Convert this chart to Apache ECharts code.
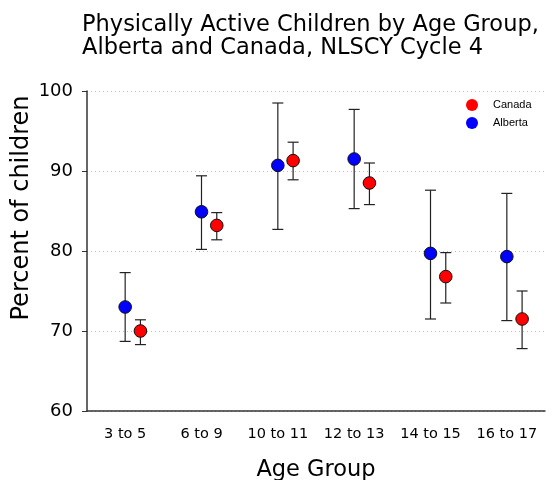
<!DOCTYPE html>
<html>
<head>
<meta charset="utf-8">
<script src="https://cdn.jsdelivr.net/npm/echarts@6/dist/echarts.min.js"></script>
<style>html,body{margin:0;padding:0;background:#fff;}#chart{width:554px;height:480px;}</style>
</head>
<body>
<div id="chart"></div>
<script>
var categories = ['3 to 5', '6 to 9', '10 to 11', '12 to 13', '14 to 15', '16 to 17'];
var albertaValues = [73.0, 84.9, 90.7, 91.5, 79.7, 79.3];
var albertaLow = [68.7, 80.2, 82.7, 85.3, 71.5, 71.3];
var albertaHigh = [77.3, 89.4, 98.5, 97.7, 87.6, 87.2];
var canadaValues = [70.0, 83.2, 91.3, 88.5, 76.8, 71.5];
var canadaLow = [68.3, 81.4, 88.9, 85.8, 73.5, 67.8];
var canadaHigh = [71.4, 84.8, 93.6, 91.0, 79.8, 75.0];

function buildData(vals, lows, highs) {
  return vals.map(function (v, i) { return [i, v, lows[i], highs[i]]; });
}

function makeRender(color, shiftFrac) {
  return function (params, api) {
    var i = api.value(0);
    var band = api.size([1, 0])[0];
    var dx = band * shiftFrac;
    var c = api.coord([i, api.value(1)]);
    var lo = api.coord([i, api.value(2)]);
    var hi = api.coord([i, api.value(3)]);
    var x = c[0] + dx;
    var cap = 5.5;
    var ls = { stroke: '#222', lineWidth: 1.2 };
    return {
      type: 'group',
      children: [
        { type: 'line', shape: { x1: x, y1: hi[1], x2: x, y2: lo[1] }, style: ls },
        { type: 'line', shape: { x1: x - cap, y1: hi[1], x2: x + cap, y2: hi[1] }, style: ls },
        { type: 'line', shape: { x1: x - cap, y1: lo[1], x2: x + cap, y2: lo[1] }, style: ls },
        { type: 'circle', shape: { cx: x, cy: c[1], r: 6.3 }, style: { fill: color, stroke: '#111', lineWidth: 1 } }
      ]
    };
  };
}

var chart = echarts.init(document.getElementById('chart'));
chart.setOption({
  backgroundColor: '#fff',
  animation: false,
  title: {
    text: 'Physically Active Children by Age Group,\nAlberta and Canada, NLSCY Cycle 4',
    left: 77, top: 9,
    textStyle: { fontFamily: 'DejaVu Sans', fontSize: 22.5, fontWeight: 'normal', color: '#000', lineHeight: 23 }
  },
  legend: {
    data: ['Canada', 'Alberta'],
    orient: 'vertical',
    left: 461, top: 94,
    icon: 'circle',
    itemWidth: 12, itemHeight: 12, itemGap: 6,
    textStyle: { fontFamily: 'Liberation Sans', fontSize: 11, color: '#000', padding: [0, 0, 0, 10] }
  },
  grid: { left: 87, right: 9, top: 91, bottom: 69, outerBoundsMode: 'none', containLabel: false },
  xAxis: {
    type: 'category',
    data: categories,
    boundaryGap: true,
    name: 'Age Group',
    nameLocation: 'middle',
    nameGap: 48,
    nameTextStyle: { fontFamily: 'DejaVu Sans', fontSize: 22.5, color: '#000' },
    axisLine: { lineStyle: { color: '#333', width: 1.5 } },
    axisTick: { alignWithLabel: true, length: 5, lineStyle: { color: '#333' } },
    axisLabel: { interval: 0, hideOverlap: false, fontFamily: 'DejaVu Sans', fontSize: 14.5, color: '#000', margin: 16 },
    splitLine: { show: false }
  },
  yAxis: {
    type: 'value',
    min: 60, max: 100, interval: 10,
    axisLine: { show: true, lineStyle: { color: '#333', width: 1.5 } },
    axisTick: { show: true, length: 5, lineStyle: { color: '#333' } },
    axisLabel: { fontFamily: 'DejaVu Sans', fontSize: 18, color: '#000', margin: 14 },
    splitLine: { show: true, lineStyle: { color: '#bbb', type: [1, 3], width: 1 } }
  },
  graphic: [{
    type: 'text', x: 22, y: 208, rotation: Math.PI / 2,
    style: { text: 'Percent of children', fontFamily: 'DejaVu Sans', fontSize: 24, fill: '#000', textAlign: 'center', textVerticalAlign: 'middle' }
  }],
  series: [
    { name: 'Alberta', type: 'custom', itemStyle: { color: '#0000ff' }, renderItem: makeRender('#0000ff', 0), data: buildData(albertaValues, albertaLow, albertaHigh), z: 3 },
    { name: 'Canada', type: 'custom', itemStyle: { color: '#ff0000' }, renderItem: makeRender('#ff0000', 0.2), data: buildData(canadaValues, canadaLow, canadaHigh), z: 4 }
  ]
});
</script>
</body>
</html>
